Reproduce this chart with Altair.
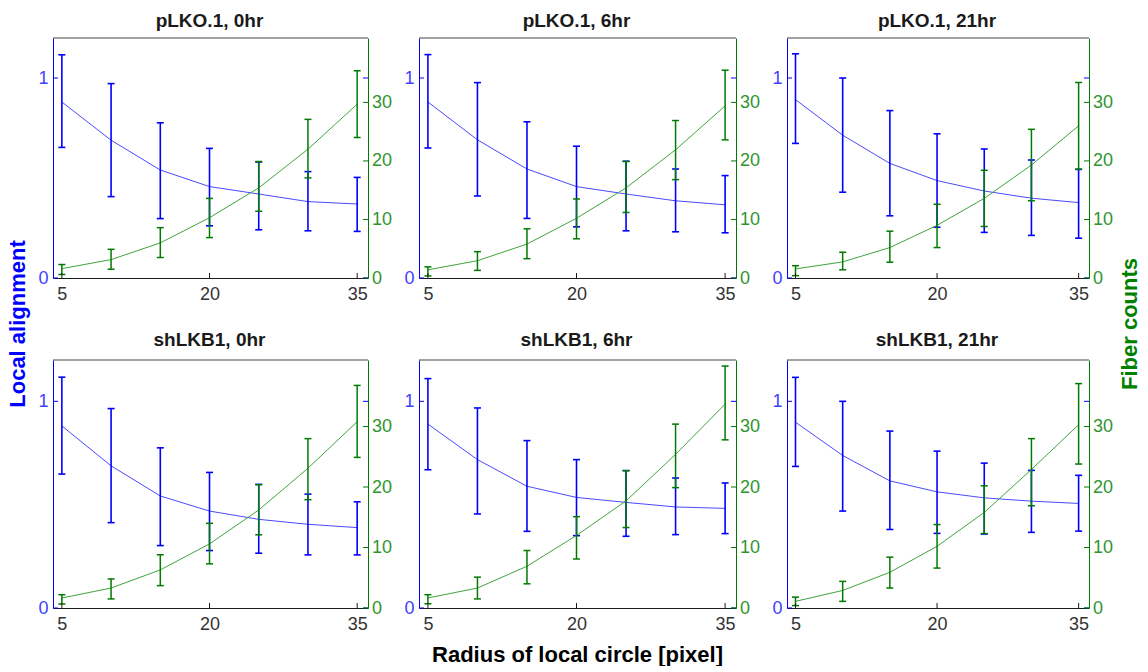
import altair as alt
import pandas as pd

# ---------------- data ----------------
RADIUS = [5, 10, 15, 20, 25, 30, 35]
PANEL_TITLES = ["pLKO.1, 0hr", "pLKO.1, 6hr", "pLKO.1, 21hr",
                "shLKB1, 0hr", "shLKB1, 6hr", "shLKB1, 21hr"]

ALIGN_MEAN = [
    [0.880, 0.689, 0.540, 0.457, 0.420, 0.382, 0.370],
    [0.880, 0.691, 0.545, 0.457, 0.420, 0.386, 0.366],
    [0.892, 0.714, 0.573, 0.487, 0.435, 0.399, 0.377],
    [0.881, 0.688, 0.542, 0.469, 0.429, 0.405, 0.389],
    [0.890, 0.718, 0.589, 0.535, 0.511, 0.489, 0.482],
    [0.899, 0.738, 0.615, 0.562, 0.533, 0.517, 0.506],
]
ALIGN_LO = [
    [0.653, 0.407, 0.297, 0.261, 0.241, 0.236, 0.233],
    [0.650, 0.410, 0.298, 0.256, 0.236, 0.231, 0.226],
    [0.673, 0.429, 0.311, 0.254, 0.228, 0.213, 0.199],
    [0.648, 0.413, 0.302, 0.278, 0.265, 0.257, 0.257],
    [0.669, 0.455, 0.371, 0.350, 0.347, 0.355, 0.360],
    [0.685, 0.469, 0.380, 0.361, 0.358, 0.366, 0.372],
]
ALIGN_HI = [
    [1.116, 0.972, 0.776, 0.648, 0.580, 0.532, 0.503],
    [1.117, 0.977, 0.781, 0.659, 0.584, 0.545, 0.512],
    [1.121, 1.000, 0.837, 0.721, 0.645, 0.590, 0.543],
    [1.117, 0.965, 0.775, 0.656, 0.598, 0.551, 0.514],
    [1.110, 0.968, 0.810, 0.718, 0.665, 0.629, 0.605],
    [1.116, 1.000, 0.856, 0.759, 0.701, 0.666, 0.642],
]
FIBER_MEAN = [
    [1.6, 3.14, 6.0, 10.3, 15.4, 22.0, 29.7],
    [1.4, 2.95, 5.8, 10.2, 15.4, 21.9, 29.4],
    [1.55, 2.75, 5.2, 9.0, 13.6, 19.3, 26.0],
    [1.65, 3.3, 6.3, 10.6, 16.2, 23.1, 30.8],
    [1.66, 3.3, 6.9, 12.0, 17.7, 25.4, 33.7],
    [1.1, 2.9, 5.9, 10.2, 15.8, 22.9, 30.3],
]
FIBER_LO = [
    [0.6, 1.5, 3.5, 6.9, 11.4, 17.1, 24.0],
    [0.35, 1.3, 3.3, 6.7, 11.2, 16.8, 23.6],
    [0.4, 1.4, 2.7, 5.2, 8.8, 13.2, 18.6],
    [0.66, 1.5, 3.7, 7.3, 12.1, 17.9, 24.9],
    [0.7, 1.5, 4.0, 8.1, 13.3, 19.9, 27.8],
    [0.4, 1.1, 3.3, 6.6, 12.3, 16.9, 23.8],
]
FIBER_HI = [
    [2.3, 4.9, 8.6, 13.6, 19.9, 27.1, 35.4],
    [1.9, 4.5, 8.4, 13.5, 19.9, 26.9, 35.5],
    [2.1, 4.4, 8.0, 12.6, 18.4, 25.4, 33.4],
    [2.2, 4.8, 8.8, 14.0, 20.4, 28.0, 36.8],
    [2.2, 5.1, 9.5, 15.1, 22.7, 30.4, 40.0],
    [1.8, 4.4, 8.4, 13.8, 20.2, 28.0, 37.1],
]

X_TICKS = [5, 20, 35]
ALIGN_TICKS = [0, 1]
FIBER_TICKS = [0, 10, 20, 30]

Y_LEFT_TITLE = "Local alignment"
Y_RIGHT_TITLE = "Fiber counts"
X_TITLE = "Radius of local circle [pixel]"

# ---------------- style ----------------
FONT = "Liberation Sans"
COL_W = [315, 317, 302]
ROW_H = [240, 248]
TITLE_BASE = [-11, -14]
BLUE = "#0000ff"
BLUE_LINE = "#4a4aff"
BLUE_LABEL = "#3f3fff"
GREEN = "#007a00"
GREEN_LINE = "#3da53d"
GREEN_LABEL = "#2f952f"
DARK = "#1a1a1a"


def make_panel(i):
    r, c = divmod(i, 3)
    W, H = COL_W[c], ROW_H[r]
    df = pd.DataFrame({
        "r": RADIUS,
        "am": ALIGN_MEAN[i], "alo": ALIGN_LO[i], "ahi": ALIGN_HI[i],
        "fm": FIBER_MEAN[i], "flo": FIBER_LO[i], "fhi": FIBER_HI[i],
    })
    base = alt.Chart(df)

    xaxis = alt.Axis(values=X_TICKS, title=None, grid=False, ticks=False, tickSize=0,
                     domainColor=DARK, domainWidth=1, labelColor="#333333",
                     labelFont=FONT, labelFontSize=18, labelPadding=7, format="d")
    xscale = alt.Scale(domain=[4.1, 36.1], nice=False, zero=False)

    def X(field="r"):
        return alt.X(f"{field}:Q", scale=xscale, axis=xaxis)

    bscale = alt.Scale(domain=[0, 1.2], nice=False, zero=False)
    baxis = alt.Axis(orient="left", values=ALIGN_TICKS, title=None, grid=False,
                     ticks=False, tickSize=0, domainColor=BLUE, domainWidth=1,
                     labelColor=BLUE_LABEL, labelFont=FONT, labelFontSize=18,
                     labelPadding=5, format="d")

    def BY(field):
        return alt.Y(f"{field}:Q", scale=bscale, axis=baxis)

    fscale = alt.Scale(domain=[0, 41], nice=False, zero=False)
    faxis = alt.Axis(orient="right", values=FIBER_TICKS, title=None, grid=False,
                     ticks=False, tickSize=0, domainColor=GREEN, domainWidth=1,
                     labelColor=GREEN_LABEL, labelFont=FONT, labelFontSize=18,
                     labelPadding=3.5, format="d")

    def FY(field):
        return alt.Y(f"{field}:Q", scale=fscale, axis=faxis)

    # blue: local alignment
    b_line = base.mark_line(color=BLUE_LINE, strokeWidth=1).encode(x=X(), y=BY("am"))
    b_bar = base.mark_rule(color=BLUE, strokeWidth=1.6).encode(
        x=X(), y=BY("alo"), y2="ahi:Q")
    b_cap_hi = base.mark_rule(color=BLUE, strokeWidth=1.6, xOffset=-3.5, x2Offset=3.5).encode(
        x=X(), x2="r:Q", y=BY("ahi"))
    b_cap_lo = base.mark_rule(color=BLUE, strokeWidth=1.6, xOffset=-3.5, x2Offset=3.5).encode(
        x=X(), x2="r:Q", y=BY("alo"))
    btick_df = alt.Chart(pd.DataFrame({"am": ALIGN_TICKS}))
    b_tick_l = btick_df.mark_rule(color=BLUE, strokeWidth=1).encode(
        x=alt.value(0), x2=alt.value(5), y=BY("am"))
    b_tick_r = btick_df.mark_rule(color=BLUE, strokeWidth=1).encode(
        x=alt.value(W - 5), x2=alt.value(W), y=BY("am"))
    blue = alt.layer(b_line, b_bar, b_cap_hi, b_cap_lo, b_tick_l, b_tick_r)

    # green: fiber counts
    g_line = base.mark_line(color=GREEN_LINE, strokeWidth=1).encode(x=X(), y=FY("fm"))
    g_bar = base.mark_rule(color=GREEN, strokeWidth=1.5).encode(
        x=X(), y=FY("flo"), y2="fhi:Q")
    g_cap_hi = base.mark_rule(color=GREEN, strokeWidth=1.5, xOffset=-3.5, x2Offset=3.5).encode(
        x=X(), x2="r:Q", y=FY("fhi"))
    g_cap_lo = base.mark_rule(color=GREEN, strokeWidth=1.5, xOffset=-3.5, x2Offset=3.5).encode(
        x=X(), x2="r:Q", y=FY("flo"))
    g_tick = alt.Chart(pd.DataFrame({"fm": FIBER_TICKS})).mark_rule(
        color=GREEN, strokeWidth=1).encode(x=alt.value(W - 5), x2=alt.value(W), y=FY("fm"))
    x_tick = alt.Chart(pd.DataFrame({"r": X_TICKS})).mark_rule(
        color=DARK, strokeWidth=1).encode(x=X(), y=alt.value(H), y2=alt.value(H - 5))
    top_border = alt.Chart(pd.DataFrame({"k": [0]})).mark_rule(
        color="#444444", strokeWidth=1).encode(x=alt.value(0), x2=alt.value(W),
                                               y=alt.value(0))
    green = alt.layer(g_line, g_bar, g_cap_hi, g_cap_lo, g_tick, x_tick, top_border)

    title = alt.Chart(pd.DataFrame({"t": [PANEL_TITLES[i]]})).mark_text(
        font=FONT, fontSize=19, fontWeight="bold", color="#1a1a1a",
        align="center", baseline="alphabetic").encode(
        text="t:N", x=alt.value(W / 2 - 1), y=alt.value(TITLE_BASE[r]))

    extras = [title]
    if i == 0:
        extras.append(alt.Chart(pd.DataFrame({"t": [Y_LEFT_TITLE]})).mark_text(
            angle=270, font=FONT, fontSize=22, fontWeight="bold", color=BLUE,
            align="center", baseline="middle").encode(
            text="t:N", x=alt.value(-35), y=alt.value(286)))
        # layout anchor: fixes the upper-left corner of the whole figure
        extras.append(alt.Chart(pd.DataFrame({"t": [""]})).mark_rule(
            color="transparent", strokeWidth=0).encode(
            x=alt.value(-53), x2=alt.value(-53), y=alt.value(-38), y2=alt.value(-38)))
    if i == 2:
        extras.append(alt.Chart(pd.DataFrame({"t": [Y_RIGHT_TITLE]})).mark_text(
            angle=270, font=FONT, fontSize=22, fontWeight="bold", color="#008000",
            align="center", baseline="middle").encode(
            text="t:N", x=alt.value(343), y=alt.value(286)))
    if i == 4:
        extras.append(alt.Chart(pd.DataFrame({"t": [X_TITLE]})).mark_text(
            font=FONT, fontSize=22, fontWeight="bold", color="#000000",
            align="center", baseline="alphabetic").encode(
            text="t:N", x=alt.value(158.5), y=alt.value(301.5)))

    return alt.layer(blue, green, *extras).resolve_scale(y="independent").properties(
        width=W, height=H)


chart = alt.concat(*[make_panel(i) for i in range(6)], columns=3,
                   spacing={"row": 82, "column": 51}, bounds="flush").properties(
    padding=0, background="white"
).configure_view(strokeWidth=0)

chart.save("out.html", embed_options={"renderer": "svg", "actions": False})
